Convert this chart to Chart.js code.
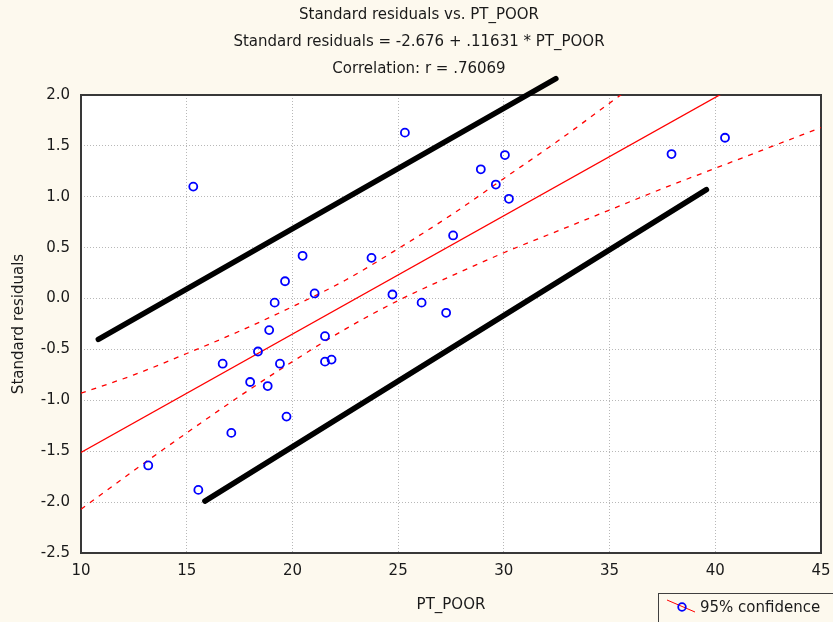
<!DOCTYPE html>
<html>
<head>
<meta charset="utf-8">
<script src="https://cdn.jsdelivr.net/npm/chart.js@4.4.0/dist/chart.umd.min.js"></script>
<style>
  html, body { margin: 0; padding: 0; background: #fdf9ee; }
  canvas { display: block; }
</style>
</head>
<body>
<canvas id="residChart" width="833" height="622"></canvas>
<script>
// ---- data ----
// one entry per case: PT_POOR and its standard residual
const ptPoor = [13.18, 15.31, 15.55, 16.70, 17.11, 18.00, 18.37, 18.83, 18.90, 19.16,
                19.41, 19.65, 19.72, 20.48, 21.05, 21.54, 21.54, 21.85, 23.74, 24.73,
                25.32, 26.11, 27.27, 27.60, 28.91, 29.62, 30.05, 30.24, 37.93, 40.46];
const stdResid = [-1.64, 1.10, -1.88, -0.64, -1.32, -0.82, -0.52, -0.86, -0.31, -0.04,
                  -0.64, 0.17, -1.16, 0.42, 0.05, -0.37, -0.62, -0.60, 0.40, 0.04,
                  1.63, -0.04, -0.14, 0.62, 1.27, 1.12, 1.41, 0.98, 1.42, 1.58];

// fitted line: Standard residuals = -2.676 + .11631 * PT_POOR
const fitX = [10, 45];
const fitY = [-1.513, 2.558];

// 95% confidence band of the fit
const bandX = [10, 12.5, 15, 17.5, 20, 22.5, 25, 27.5, 30, 32.5, 35, 37.5, 40, 42.5, 45];
const bandUpper = [-0.93, -0.75, -0.54, -0.32, -0.08, 0.18, 0.49, 0.82, 1.18, 1.54, 1.92, 2.30, 2.68, 3.06, 3.44];
const bandLower = [-2.07, -1.69, -1.32, -0.96, -0.62, -0.30, -0.02, 0.22, 0.45, 0.66, 0.87, 1.08, 1.28, 1.48, 1.68];

// thick black guide lines
const guideUpperX = [10.82, 32.46];
const guideUpperY = [-0.40, 2.16];
const guideLowerX = [15.86, 39.58];
const guideLowerY = [-1.99, 1.07];

// axes
const xTicks = [10, 15, 20, 25, 30, 35, 40, 45];
const yTicks = [-2.5, -2.0, -1.5, -1.0, -0.5, 0.0, 0.5, 1.0, 1.5, 2.0];

const headerLines = [
  'Standard residuals vs. PT_POOR',
  'Standard residuals = -2.676 + .11631 * PT_POOR',
  'Correlation: r = .76069'
];
const legendLabel = '95% confidence';

// ---- helpers ----
const FONT = '"DejaVu Sans", Arial, sans-serif';
const TEXT = '#1a1a1a';
const zip = (xs, ys) => xs.map((x, i) => ({ x: x, y: ys[i] }));

// backgrounds, plot frame, header text and legend box
const decorPlugin = {
  id: 'decor',
  beforeDraw(chart) {
    const { ctx, chartArea: a } = chart;
    ctx.save();
    ctx.fillStyle = '#fdf9ee';
    ctx.fillRect(0, 0, chart.width, chart.height);
    ctx.fillStyle = '#ffffff';
    ctx.fillRect(a.left, a.top, a.right - a.left, a.bottom - a.top);
    ctx.restore();
  },
  beforeDatasetsDraw(chart) {
    const { ctx, chartArea: a } = chart;
    ctx.save();
    ctx.strokeStyle = '#383838';
    ctx.lineWidth = 2;
    ctx.strokeRect(a.left, a.top, a.right - a.left, a.bottom - a.top);
    ctx.restore();
  },
  afterDraw(chart) {
    const { ctx } = chart;
    ctx.save();
    ctx.fillStyle = TEXT;
    ctx.font = '15px ' + FONT;
    ctx.textAlign = 'center';
    ctx.textBaseline = 'middle';
    headerLines.forEach((t, i) => ctx.fillText(t, 419, 15 + i * 27));

    // legend box (runs off the lower right corner)
    ctx.strokeStyle = '#404040';
    ctx.lineWidth = 1;
    ctx.strokeRect(658.5, 593.5, 200, 50);
    ctx.strokeStyle = '#ff0000';
    ctx.beginPath();
    ctx.moveTo(667, 600);
    ctx.lineTo(695, 612);
    ctx.stroke();
    ctx.strokeStyle = '#0000ff';
    ctx.lineWidth = 1.8;
    ctx.beginPath();
    ctx.arc(682, 607, 3.8, 0, Math.PI * 2);
    ctx.stroke();
    ctx.fillStyle = TEXT;
    ctx.textAlign = 'left';
    ctx.fillText(legendLabel, 700, 608);
    ctx.restore();
  }
};

const ctx = document.getElementById('residChart').getContext('2d');
new Chart(ctx, {
  type: 'scatter',
  data: {
    datasets: [
      {
        label: 'cases',
        data: zip(ptPoor, stdResid),
        showLine: false,
        pointStyle: 'circle',
        pointRadius: 4,
        pointBorderWidth: 1.8,
        pointBorderColor: '#0000ff',
        pointBackgroundColor: 'rgba(0,0,0,0)'
      },
      {
        type: 'line',
        label: 'fit',
        data: zip(fitX, fitY),
        borderColor: '#ff0000',
        borderWidth: 1.3,
        pointRadius: 0
      },
      {
        type: 'line',
        label: 'upper 95%',
        data: zip(bandX, bandUpper),
        borderColor: '#ff0000',
        borderWidth: 1.3,
        borderDash: [5, 6],
        cubicInterpolationMode: 'monotone',
        pointRadius: 0
      },
      {
        type: 'line',
        label: 'lower 95%',
        data: zip(bandX, bandLower),
        borderColor: '#ff0000',
        borderWidth: 1.3,
        borderDash: [5, 6],
        cubicInterpolationMode: 'monotone',
        pointRadius: 0
      },
      {
        type: 'line',
        label: 'guide upper',
        data: zip(guideUpperX, guideUpperY),
        borderColor: '#000000',
        borderWidth: 5.5,
        borderCapStyle: 'round',
        pointRadius: 0,
        clip: false
      },
      {
        type: 'line',
        label: 'guide lower',
        data: zip(guideLowerX, guideLowerY),
        borderColor: '#000000',
        borderWidth: 5.5,
        borderCapStyle: 'round',
        pointRadius: 0,
        clip: false
      }
    ]
  },
  options: {
    responsive: false,
    animation: false,
    devicePixelRatio: 1,
    layout: { padding: { top: 95, right: 12, left: 0, bottom: 0 } },
    plugins: {
      legend: { display: false },
      tooltip: { enabled: false },
      title: { display: false }
    },
    scales: {
      x: {
        type: 'linear',
        min: 10,
        max: 45,
        afterBuildTicks: (scale) => { scale.ticks = xTicks.map(v => ({ value: v })); },
        afterFit: (scale) => {
          scale.height = 69;
          scale.paddingLeft = 0;
          scale.paddingRight = 0;
        },
        ticks: { color: TEXT, font: { family: FONT, size: 15 }, padding: 9, maxRotation: 0 },
        grid: { color: '#b8b8b8', lineWidth: 1, drawTicks: false },
        border: { display: false, dash: [1, 2] },
        title: { display: true, text: 'PT_POOR', color: TEXT, font: { family: FONT, size: 15 }, padding: { top: 0, bottom: 8 } }
      },
      y: {
        type: 'linear',
        min: -2.5,
        max: 2,
        afterBuildTicks: (scale) => { scale.ticks = yTicks.map(v => ({ value: v })); },
        afterFit: (scale) => {
          scale.width = 81;
          scale.paddingTop = 0;
          scale.paddingBottom = 0;
        },
        ticks: { color: TEXT, font: { family: FONT, size: 15 }, padding: 11, callback: (v) => Number(v).toFixed(1) },
        grid: { color: '#b8b8b8', lineWidth: 1, drawTicks: false },
        border: { display: false, dash: [1, 2] },
        title: { display: true, text: 'Standard residuals', color: TEXT, font: { family: FONT, size: 15 }, padding: { top: 10, bottom: 0 } }
      }
    }
  },
  plugins: [decorPlugin]
});
</script>
</body>
</html>
